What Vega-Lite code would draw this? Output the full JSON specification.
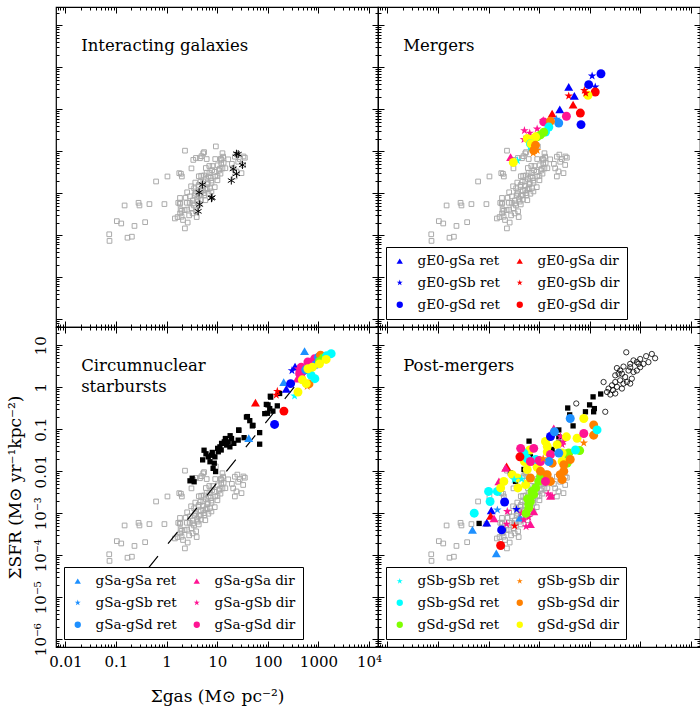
{
"$schema":"https://vega.github.io/schema/vega-lite/v6.json",
"background":"white",
"config":{
 "font":"DejaVu Serif",
 "view":{"stroke":"black","strokeWidth":1.2},
 "axis":{"domain":false,"grid":false,"tickColor":"black","tickWidth":1,"labelFont":"DejaVu Serif","labelFontSize":15,"labelColor":"black","titleFont":"DejaVu Serif","titleFontSize":17,"titleFontWeight":"normal","titleColor":"black","labelOverlap":false,"labelFlush":false,"labelBound":false,"tickCount":20},
 "legend":{"orient":"bottom-left","offset":8,"padding":7,"rowPadding":7,"columnPadding":13,"labelOffset":11,"symbolSize":40,"labelFont":"DejaVu Serif","labelFontSize":13.5,"labelColor":"black","strokeColor":"black","fillColor":"white","columns":2,"symbolStrokeWidth":0},
 "range":{
  "category":["#0000ff","#0000ff","#0000ff","#ff0000","#ff0000","#ff0000","#1e90ff","#1e90ff","#1e90ff","#ff1493","#ff1493","#ff1493","#00ffff","#00ffff","#7fff00","#ff8000","#ff8000","#ffff00"],
  "symbol":["triangle-up","M0,-1L0.225,-0.309L0.951,-0.309L0.363,0.118L0.588,0.809L0,0.382L-0.588,0.809L-0.363,0.118L-0.951,-0.309L-0.225,-0.309Z","circle","triangle-up","M0,-1L0.225,-0.309L0.951,-0.309L0.363,0.118L0.588,0.809L0,0.382L-0.588,0.809L-0.363,0.118L-0.951,-0.309L-0.225,-0.309Z","circle","triangle-up","M0,-1L0.225,-0.309L0.951,-0.309L0.363,0.118L0.588,0.809L0,0.382L-0.588,0.809L-0.363,0.118L-0.951,-0.309L-0.225,-0.309Z","circle","triangle-up","M0,-1L0.225,-0.309L0.951,-0.309L0.363,0.118L0.588,0.809L0,0.382L-0.588,0.809L-0.363,0.118L-0.951,-0.309L-0.225,-0.309Z","circle","M0,-1L0.225,-0.309L0.951,-0.309L0.363,0.118L0.588,0.809L0,0.382L-0.588,0.809L-0.363,0.118L-0.951,-0.309L-0.225,-0.309Z","circle","circle","M0,-1L0.225,-0.309L0.951,-0.309L0.363,0.118L0.588,0.809L0,0.382L-0.588,0.809L-0.363,0.118L-0.951,-0.309L-0.225,-0.309Z","circle","circle"]
 }
},
"datasets":{
 "bg":[
  {"x":0.0736,"y":1.05e-4},{"x":0.0745,"y":7.3e-5},{"x":0.104,"y":2.16e-4},{"x":0.127,"y":1.9e-4},{"x":0.169,"y":8.7e-5},{"x":0.206,"y":9.2e-5},{"x":0.232,"y":1.66e-4},{"x":0.377,"y":2.04e-4},{"x":0.148,"y":5.1e-4},{"x":0.279,"y":5.9e-4},{"x":0.291,"y":5.1e-4},{"x":0.458,"y":5.5e-4},{"x":0.906,"y":5.5e-4},{"x":0.62,"y":1.9e-3},{"x":1.04,"y":2.5e-3},{"x":2.31,"y":0.0103},{"x":2.3,"y":1.45e-4},{"x":2.61,"y":2.0e-4},{"x":3.93,"y":2.7e-4},{"x":1.65,"y":2.7e-4},{"x":1.98,"y":3.8e-4},{"x":1.83,"y":5.6e-4},
  {"x":5.3,"y":8.9e-3},{"x":3.8,"y":6.9e-3},{"x":4.9,"y":7.6e-3},{"x":5.5,"y":9.5e-3},{"x":9.4,"y":0.013},{"x":13.1,"y":7.4e-3},{"x":12.2,"y":6.2e-3},{"x":4.56,"y":6.8e-3},{"x":3.37,"y":6.2e-3},{"x":3.1,"y":3.9e-3},{"x":1.78,"y":3.0e-3},{"x":1.92,"y":2.9e-3},{"x":2.0,"y":2.5e-3},{"x":1.7,"y":5.9e-4},{"x":1.84,"y":7.7e-4},{"x":6.2,"y":6.5e-3},
  {"x":22.3,"y":7.4e-3},{"x":26,"y":5.6e-3},{"x":32.6,"y":4.7e-3},{"x":35.2,"y":7.0e-3},{"x":30.2,"y":3.0e-3},{"x":20.7,"y":3.9e-3},{"x":22.3,"y":2.5e-3},{"x":24,"y":3.3e-3},{"x":28,"y":6.5e-3},{"x":19.5,"y":5.0e-3},{"x":25,"y":8.3e-3},{"x":33,"y":7.5e-3},
  {"x":1.98,"y":2.75e-4},{"x":1.89,"y":4.1e-4},{"x":2.79,"y":2.96e-4},{"x":2.54,"y":4.07e-4},{"x":1.87,"y":5.9e-4},{"x":3.83,"y":3.7e-4},{"x":2.52,"y":5.9e-4},{"x":3.48,"y":5.1e-4},{"x":2.38,"y":7.8e-4},{"x":3.29,"y":6.7e-4},{"x":4.32,"y":5.4e-4},{"x":2.89,"y":8.4e-4},{"x":4.01,"y":7.3e-4},{"x":2.55,"y":1.05e-3},{"x":4.74,"y":7.1e-4},{"x":3.71,"y":9.8e-4},{"x":5.82,"y":6.8e-4},{"x":4.74,"y":9.0e-4},{"x":3.51,"y":1.31e-3},{"x":5.61,"y":8.9e-4},
  {"x":4.75,"y":1.15e-3},{"x":4.27,"y":1.41e-3},{"x":6.7,"y":9.7e-4},{"x":3.69,"y":1.79e-3},{"x":5.91,"y":1.22e-3},{"x":5.2,"y":1.52e-3},{"x":7.2,"y":1.31e-3},{"x":4.68,"y":1.87e-3},{"x":6.35,"y":1.64e-3},{"x":4.33,"y":2.53e-3},{"x":8.93,"y":1.39e-3},{"x":5.98,"y":2.18e-3},{"x":7.73,"y":1.77e-3},{"x":5.5,"y":2.64e-3},{"x":7.45,"y":2.32e-3},{"x":10.1,"y":2.03e-3},{"x":7.03,"y":3.08e-3},{"x":9.08,"y":2.5e-3},{"x":5.96,"y":3.98e-3},{"x":8.91,"y":3.22e-3},
  {"x":11.6,"y":2.92e-3},{"x":8.09,"y":4.43e-3},{"x":11.2,"y":3.82e-3},{"x":10.2,"y":4.62e-3},{"x":14.5,"y":3.93e-3},{"x":9.14,"y":6.5e-3},{"x":13.4,"y":5.3e-3},{"x":11.8,"y":6.6e-3},{"x":1.85,"y":3.3e-4},{"x":2.11,"y":2.3e-4},{"x":2.27,"y":3.95e-4},{"x":3.09,"y":4.4e-4},{"x":2.86,"y":5.9e-4},{"x":3.32,"y":5.7e-4},{"x":4.12,"y":6.3e-4},{"x":3.6,"y":8.9e-4},{"x":3.75,"y":1.1e-3},{"x":5.56,"y":1.0e-3},{"x":5.3,"y":1.18e-3},{"x":4.32,"y":1.57e-3},
  {"x":6.2,"y":1.32e-3},{"x":5.32,"y":1.9e-3},{"x":6.53,"y":1.8e-3},{"x":7.67,"y":2.0e-3},{"x":6.75,"y":2.51e-3},{"x":6.18,"y":3.04e-3},{"x":10.1,"y":2.58e-3},{"x":7.93,"y":3.55e-3},{"x":10.9,"y":3.48e-3},{"x":12.7,"y":3.87e-3},{"x":12.0,"y":5.15e-3},{"x":4.34,"y":8.6e-4},{"x":7.69,"y":1.1e-3},{"x":3.05,"y":1.46e-3},{"x":4.83,"y":2.6e-3},{"x":6.97,"y":4.44e-3},{"x":3.27,"y":3.3e-4},{"x":16.5,"y":6.4e-3},{"x":12.7,"y":8.95e-3},{"x":1.46,"y":2.5e-4}
 ],
 "ast":[
  {"x":24,"y":8.7e-3},{"x":26,"y":8.5e-3},{"x":31.5,"y":4.7e-3},{"x":20.7,"y":3.8e-3},{"x":24,"y":2.9e-3},{"x":19,"y":2.0e-3},{"x":5.1,"y":1.6e-3},{"x":4.4,"y":1.05e-3},{"x":7.7,"y":7.6e-4},{"x":7.9,"y":7.9e-4},{"x":4.5,"y":5.4e-4},{"x":4.2,"y":3.7e-4}
 ],
 "sq":[
  {"p":"BL","x":2.9,"y":5.9e-3},{"p":"BL","x":3.5,"y":5.6e-3},{"p":"BL","x":3.2,"y":6.8e-3},{"p":"BL","x":5.15,"y":0.0186},{"p":"BL","x":5.5,"y":0.0316},{"p":"BL","x":6.65,"y":0.022},{"p":"BL","x":7.7,"y":0.024},{"p":"BL","x":7.2,"y":0.0168},{"p":"BL","x":8.75,"y":0.0155},{"p":"BL","x":8.3,"y":0.0117},{"p":"BL","x":9.3,"y":0.0098},{"p":"BL","x":9,"y":0.022},{"p":"BL","x":10.2,"y":0.035},{"p":"BL","x":10.5,"y":0.029},{"p":"BL","x":11.3,"y":0.038},{"p":"BL","x":12.2,"y":0.046},{"p":"BL","x":13.8,"y":0.05},{"p":"BL","x":15.3,"y":0.042},{"p":"BL","x":16.5,"y":0.05},{"p":"BL","x":17.8,"y":0.038},{"p":"BL","x":19.2,"y":0.06},{"p":"BL","x":21.3,"y":0.046},{"p":"BL","x":26,"y":0.055},{"p":"BL","x":26.7,"y":0.094},{"p":"BL","x":6.0,"y":0.026},{"p":"BL","x":8.0,"y":0.028},{"p":"BL","x":12,"y":0.032},{"p":"BL","x":14.5,"y":0.06},{"p":"BL","x":37.8,"y":0.195},{"p":"BL","x":39.5,"y":0.2},{"p":"BL","x":51,"y":0.124},{"p":"BL","x":49.5,"y":0.12},{"p":"BL","x":26.6,"y":0.096},{"p":"BL","x":34,"y":0.063},{"p":"BL","x":69,"y":0.083},{"p":"BL","x":69,"y":0.044},{"p":"BL","x":87,"y":0.235},{"p":"BL","x":93.5,"y":0.39},{"p":"BL","x":101,"y":0.38},{"p":"BL","x":109,"y":0.31},{"p":"BL","x":98,"y":0.24},{"p":"BL","x":126,"y":0.27},{"p":"BL","x":154,"y":0.36},{"p":"BL","x":114,"y":0.58},{"p":"BL","x":112,"y":0.61},{"p":"BL","x":171,"y":0.71},{"p":"BL","x":44,"y":0.16},{"p":"BL","x":18,"y":0.07},
  {"p":"BR","x":0.65,"y":5.7e-4},{"p":"BR","x":2.7,"y":9.1e-3},{"p":"BR","x":3.4,"y":5.7e-3},{"p":"BR","x":6.3,"y":0.052},{"p":"BR","x":6.7,"y":0.022},{"p":"BR","x":6.9,"y":0.016},{"p":"BR","x":24.4,"y":0.096},{"p":"BR","x":24.4,"y":0.047},{"p":"BR","x":24.4,"y":0.066},{"p":"BR","x":36.6,"y":0.32},{"p":"BR","x":40,"y":0.22},{"p":"BR","x":46.7,"y":0.12},{"p":"BR","x":82,"y":0.26},{"p":"BR","x":99,"y":0.38},{"p":"BR","x":116,"y":0.59},{"p":"BR","x":119,"y":0.26},{"p":"BR","x":123,"y":0.31},{"p":"BR","x":164,"y":0.69},{"p":"BR","x":18,"y":0.033},{"p":"BR","x":5,"y":0.011}
 ],
 "oc":[
  {"x":525,"y":6.8},{"x":1297,"y":5.5},{"x":1680,"y":6.2},{"x":989,"y":4.7},{"x":730,"y":4.35},{"x":916,"y":3.6},{"x":628,"y":3.0},{"x":463,"y":3.1},{"x":343,"y":2.86},{"x":398,"y":2.5},{"x":431,"y":2.1},{"x":500,"y":1.75},{"x":730,"y":2.3},{"x":850,"y":2.5},{"x":676,"y":1.6},{"x":541,"y":1.33},{"x":398,"y":1.46},{"x":318,"y":1.33},{"x":274,"y":1.11},{"x":343,"y":1.02},{"x":431,"y":0.93},{"x":286,"y":0.85},{"x":235,"y":0.93},{"x":187,"y":1.33},{"x":219,"y":0.77},{"x":254,"y":0.67},{"x":318,"y":0.71},{"x":628,"y":1.22},{"x":463,"y":1.22},{"x":54,"y":0.41},{"x":202,"y":0.26},{"x":1150,"y":3.6},{"x":1440,"y":3.96},{"x":628,"y":3.6},{"x":582,"y":2.5},{"x":370,"y":2.1},{"x":318,"y":1.92},{"x":989,"y":3.0},{"x":850,"y":3.96},{"x":1950,"y":4.9}
 ],
 "sim":[
  {"p":"TR","cat":"gE0-gSd ret","x":166,"y":0.70},{"p":"TR","cat":"gE0-gSb ret","x":111,"y":0.62},{"p":"TR","cat":"gE0-gSd ret","x":95,"y":0.385},{"p":"TR","cat":"gE0-gSb ret","x":128,"y":0.34},{"p":"TR","cat":"gE0-gSd dir","x":128,"y":0.257},{"p":"TR","cat":"gSd-gSd dir","x":92,"y":0.214},{"p":"TR","cat":"gE0-gSb dir","x":78,"y":0.28},{"p":"TR","cat":"gE0-gSb dir","x":83,"y":0.24},{"p":"TR","cat":"gE0-gSa ret","x":38.3,"y":0.34},{"p":"TR","cat":"gE0-gSb dir","x":38.3,"y":0.207},{"p":"TR","cat":"gE0-gSa ret","x":49.5,"y":0.207},{"p":"TR","cat":"gE0-gSa dir","x":46.7,"y":0.128},{"p":"TR","cat":"gE0-gSd dir","x":65,"y":0.081},{"p":"TR","cat":"gE0-gSd ret","x":67,"y":0.043},{"p":"TR","cat":"gE0-gSa ret","x":25.5,"y":0.099},{"p":"TR","cat":"gE0-gSa dir","x":18,"y":0.078},
  {"p":"TR","cat":"gSa-gSd dir","x":34.5,"y":0.068},{"p":"TR","cat":"gSa-gSb dir","x":12,"y":0.054},{"p":"TR","cat":"gSa-gSd dir","x":12.3,"y":0.05},{"p":"TR","cat":"gSa-gSb ret","x":22,"y":0.058},{"p":"TR","cat":"gSa-gSd ret","x":24.3,"y":0.047},{"p":"TR","cat":"gSb-gSd dir","x":16.7,"y":0.052},{"p":"TR","cat":"gSb-gSd ret","x":15.5,"y":0.0376},{"p":"TR","cat":"gSb-gSd ret","x":13.3,"y":0.0285},{"p":"TR","cat":"gSa-gSb dir","x":9.1,"y":0.034},{"p":"TR","cat":"gSa-gSb dir","x":5.1,"y":0.031},{"p":"TR","cat":"gSa-gSb dir","x":6.5,"y":0.027},{"p":"TR","cat":"gSa-gSb dir","x":5.0,"y":0.019},
  {"p":"TR","cat":"gSd-gSd ret","x":12.3,"y":0.0285},{"p":"TR","cat":"gSd-gSd ret","x":10.6,"y":0.0245},{"p":"TR","cat":"gSd-gSd ret","x":9.1,"y":0.022},{"p":"TR","cat":"gSd-gSd dir","x":7.8,"y":0.02},{"p":"TR","cat":"gSd-gSd dir","x":5.8,"y":0.02},{"p":"TR","cat":"gSd-gSd dir","x":8.5,"y":0.022},{"p":"TR","cat":"gSb-gSd ret","x":6.7,"y":0.015},{"p":"TR","cat":"gSb-gSd ret","x":7.3,"y":0.012},{"p":"TR","cat":"gSd-gSd dir","x":6.9,"y":0.015},{"p":"TR","cat":"gSb-gSd dir","x":8.45,"y":0.0138},{"p":"TR","cat":"gSb-gSd dir","x":7.8,"y":0.0105},{"p":"TR","cat":"gSb-gSb dir","x":7.6,"y":0.009},{"p":"TR","cat":"gSb-gSb dir","x":9.1,"y":0.0105},{"p":"TR","cat":"gSa-gSa dir","x":2.72,"y":0.0072},{"p":"TR","cat":"gSb-gSb ret","x":3.7,"y":0.006},{"p":"TR","cat":"gSd-gSd dir","x":3.08,"y":0.0054},
  {"p":"BL","cat":"gSa-gSa ret","x":532,"y":7.2},{"p":"BL","cat":"gSa-gSa ret","x":206,"y":1.33},{"p":"BL","cat":"gSa-gSa ret","x":42,"y":0.061},{"p":"BL","cat":"gE0-gSa ret","x":345,"y":3.1},{"p":"BL","cat":"gE0-gSa ret","x":232,"y":0.91},{"p":"BL","cat":"gE0-gSb ret","x":300,"y":2.5},{"p":"BL","cat":"gSa-gSd dir","x":458,"y":3.0},{"p":"BL","cat":"gSa-gSd dir","x":620,"y":4.0},{"p":"BL","cat":"gSa-gSd dir","x":838,"y":4.75},{"p":"BL","cat":"gSa-gSd dir","x":425,"y":2.1},{"p":"BL","cat":"gSa-gSb dir","x":394,"y":2.75},{"p":"BL","cat":"gSa-gSb dir","x":500,"y":2.0},{"p":"BL","cat":"gSa-gSb dir","x":700,"y":3.8},{"p":"BL","cat":"gSa-gSa dir","x":380,"y":1.6},{"p":"BL","cat":"gSa-gSd ret","x":900,"y":3.5},{"p":"BL","cat":"gSa-gSd ret","x":1000,"y":5.2},{"p":"BL","cat":"gSa-gSd ret","x":560,"y":2.6},{"p":"BL","cat":"gSb-gSd dir","x":1100,"y":5.8},{"p":"BL","cat":"gSb-gSd dir","x":650,"y":1.2},{"p":"BL","cat":"gSb-gSb dir","x":600,"y":1.05},{"p":"BL","cat":"gSd-gSd ret","x":1050,"y":4.1},{"p":"BL","cat":"gSd-gSd ret","x":1250,"y":5.0},{"p":"BL","cat":"gSb-gSd ret","x":1785,"y":6.3},{"p":"BL","cat":"gSb-gSd ret","x":1450,"y":5.6},{"p":"BL","cat":"gSb-gSd ret","x":720,"y":1.92},{"p":"BL","cat":"gSb-gSd ret","x":850,"y":1.6},{"p":"BL","cat":"gSb-gSb ret","x":338,"y":0.62},{"p":"BL","cat":"gSd-gSd dir","x":620,"y":2.75},{"p":"BL","cat":"gSd-gSd dir","x":394,"y":0.77},{"p":"BL","cat":"gSd-gSd dir","x":574,"y":1.22},{"p":"BL","cat":"gSd-gSd dir","x":1050,"y":3.6},{"p":"BL","cat":"gSd-gSd dir","x":1420,"y":4.6},{"p":"BL","cat":"gSd-gSd dir","x":480,"y":1.5},{"p":"BL","cat":"gSd-gSd dir","x":760,"y":3.0},{"p":"BL","cat":"gE0-gSd ret","x":282,"y":1.22},{"p":"BL","cat":"gE0-gSd ret","x":136,"y":0.13},{"p":"BL","cat":"gE0-gSb dir","x":154,"y":0.8},{"p":"BL","cat":"gE0-gSb dir","x":147,"y":0.65},{"p":"BL","cat":"gE0-gSa dir","x":57,"y":0.43},{"p":"BL","cat":"gE0-gSd dir","x":208,"y":0.27},
  {"p":"BR","cat":"gSb-gSd ret","x":0.52,"y":1.0e-3},{"p":"BR","cat":"gSb-gSd ret","x":1.0,"y":3.3e-3},{"p":"BR","cat":"gSb-gSd ret","x":1.07,"y":1.9e-3},{"p":"BR","cat":"gSb-gSd ret","x":1.49,"y":3.3e-3},{"p":"BR","cat":"gE0-gSd ret","x":1.81,"y":4.0e-4},{"p":"BR","cat":"gE0-gSd ret","x":2.07,"y":1.85e-3},{"p":"BR","cat":"gE0-gSd dir","x":1.73,"y":1.7e-4},{"p":"BR","cat":"gSa-gSa ret","x":1.42,"y":1.1e-4},{"p":"BR","cat":"gSa-gSa ret","x":0.48,"y":4.0e-4},{"p":"BR","cat":"gSa-gSa ret","x":4.16,"y":7.8e-4},{"p":"BR","cat":"gE0-gSa ret","x":0.92,"y":6.0e-4},{"p":"BR","cat":"gE0-gSa ret","x":1.13,"y":1.17e-3},{"p":"BR","cat":"gE0-gSa dir","x":1.1,"y":8.6e-4},{"p":"BR","cat":"gE0-gSa dir","x":2.27,"y":0.013},{"p":"BR","cat":"gSa-gSa dir","x":1.28,"y":7.5e-4},{"p":"BR","cat":"gSa-gSa dir","x":6.7,"y":5.5e-4},{"p":"BR","cat":"gSa-gSa dir","x":19.4,"y":0.105},{"p":"BR","cat":"gSa-gSa dir","x":2.17,"y":0.012},{"p":"BR","cat":"gSa-gSa dir","x":1.6,"y":5.7e-3},{"p":"BR","cat":"gSa-gSa dir","x":16.7,"y":2.6e-3},{"p":"BR","cat":"gSa-gSa dir","x":7.8,"y":1.1e-3},{"p":"BR","cat":"gSa-gSb ret","x":1.49,"y":1.2e-3},{"p":"BR","cat":"gSa-gSb dir","x":2.34,"y":1.1e-3},{"p":"BR","cat":"gSa-gSb dir","x":2.27,"y":5.5e-4},{"p":"BR","cat":"gSa-gSb dir","x":4.5,"y":1.0e-3},{"p":"BR","cat":"gSa-gSb dir","x":5,"y":7e-4},{"p":"BR","cat":"gSa-gSb dir","x":6.2,"y":8e-4},{"p":"BR","cat":"gSa-gSb dir","x":5.5,"y":4.8e-4},{"p":"BR","cat":"gSa-gSb dir","x":30,"y":0.05},{"p":"BR","cat":"gSa-gSb dir","x":28.4,"y":0.043},{"p":"BR","cat":"gSa-gSb dir","x":26.3,"y":0.067},{"p":"BR","cat":"gSa-gSb dir","x":18,"y":2.6e-3},{"p":"BR","cat":"gSa-gSb dir","x":15,"y":2.9e-3},{"p":"BR","cat":"gE0-gSb dir","x":3.27,"y":5.0e-4},{"p":"BR","cat":"gE0-gSb ret","x":3.57,"y":1.23e-3},
  {"p":"BR","cat":"gSd-gSd ret","x":5.5,"y":1.0e-3},{"p":"BR","cat":"gSd-gSd ret","x":6.25,"y":1.35e-3},{"p":"BR","cat":"gSd-gSd ret","x":6.2,"y":1.6e-3},{"p":"BR","cat":"gSd-gSd ret","x":6.7,"y":1.9e-3},{"p":"BR","cat":"gSd-gSd ret","x":5.9,"y":2.2e-3},{"p":"BR","cat":"gSd-gSd ret","x":7.8,"y":2.8e-3},{"p":"BR","cat":"gSd-gSd ret","x":7.2,"y":3.3e-3},{"p":"BR","cat":"gSd-gSd ret","x":8.5,"y":4.0e-3},{"p":"BR","cat":"gSd-gSd ret","x":9.8,"y":5.7e-3},{"p":"BR","cat":"gSd-gSd ret","x":10.6,"y":7.5e-3},{"p":"BR","cat":"gSd-gSd ret","x":63,"y":0.031},{"p":"BR","cat":"gSd-gSd ret","x":35,"y":0.026},{"p":"BR","cat":"gSd-gSd ret","x":32,"y":0.016},{"p":"BR","cat":"gSd-gSd ret","x":38.4,"y":0.027},{"p":"BR","cat":"gSd-gSd ret","x":35.6,"y":0.0155},
  {"p":"BR","cat":"gSd-gSd dir","x":1.73,"y":4.0e-3},{"p":"BR","cat":"gSd-gSd dir","x":2.0,"y":5.7e-3},{"p":"BR","cat":"gSd-gSd dir","x":2.93,"y":8.3e-3},{"p":"BR","cat":"gSd-gSd dir","x":3.8,"y":4.0e-3},{"p":"BR","cat":"gSd-gSd dir","x":3.68,"y":6.9e-3},{"p":"BR","cat":"gSd-gSd dir","x":5.4,"y":4.8e-3},{"p":"BR","cat":"gSd-gSd dir","x":5.8,"y":0.011},{"p":"BR","cat":"gSd-gSd dir","x":9.1,"y":0.0124},{"p":"BR","cat":"gSd-gSd dir","x":5.1,"y":0.017},{"p":"BR","cat":"gSd-gSd dir","x":6.5,"y":0.032},{"p":"BR","cat":"gSd-gSd dir","x":14.4,"y":0.039},{"p":"BR","cat":"gSd-gSd dir","x":22.6,"y":0.043},{"p":"BR","cat":"gSd-gSd dir","x":28.4,"y":0.027},{"p":"BR","cat":"gSd-gSd dir","x":28.4,"y":0.017},{"p":"BR","cat":"gSd-gSd dir","x":34.5,"y":0.066},{"p":"BR","cat":"gSd-gSd dir","x":56,"y":0.061},{"p":"BR","cat":"gSd-gSd dir","x":76,"y":0.18},{"p":"BR","cat":"gSd-gSd dir","x":13.3,"y":0.051},{"p":"BR","cat":"gSd-gSd dir","x":14.4,"y":0.029},
  {"p":"BR","cat":"gSb-gSd dir","x":6.7,"y":6.9e-3},{"p":"BR","cat":"gSb-gSd dir","x":10.6,"y":0.01},{"p":"BR","cat":"gSb-gSd dir","x":14.4,"y":8.3e-3},{"p":"BR","cat":"gSb-gSd dir","x":16.7,"y":5.7e-3},{"p":"BR","cat":"gSb-gSd dir","x":26,"y":8.3e-3},{"p":"BR","cat":"gSb-gSd dir","x":30.6,"y":0.01},{"p":"BR","cat":"gSb-gSd dir","x":28.4,"y":6.3e-3},{"p":"BR","cat":"gSb-gSd dir","x":30.6,"y":0.0143},{"p":"BR","cat":"gSb-gSd dir","x":41,"y":0.019},{"p":"BR","cat":"gSb-gSd dir","x":119,"y":0.126},{"p":"BR","cat":"gSb-gSd dir","x":119,"y":0.072},{"p":"BR","cat":"gSb-gSd dir","x":18,"y":0.0155},
  {"p":"BR","cat":"gSb-gSd ret","x":5.0,"y":0.027},{"p":"BR","cat":"gSb-gSd ret","x":5.8,"y":0.02},{"p":"BR","cat":"gSb-gSd ret","x":8.5,"y":0.019},{"p":"BR","cat":"gSb-gSd ret","x":139,"y":0.096},{"p":"BR","cat":"gSb-gSd ret","x":52,"y":0.032},
  {"p":"BR","cat":"gSa-gSd dir","x":4.3,"y":0.035},{"p":"BR","cat":"gSa-gSd dir","x":6.7,"y":0.017},{"p":"BR","cat":"gSa-gSd dir","x":7.8,"y":0.035},{"p":"BR","cat":"gSa-gSd dir","x":10.6,"y":0.017},{"p":"BR","cat":"gSa-gSd dir","x":16.7,"y":0.025},{"p":"BR","cat":"gSa-gSd dir","x":13.3,"y":5.7e-3},{"p":"BR","cat":"gSa-gSd dir","x":76,"y":0.079},{"p":"BR","cat":"gSa-gSd dir","x":10,"y":0.018},
  {"p":"BR","cat":"gE0-gSd dir","x":4.16,"y":0.022},{"p":"BR","cat":"gE0-gSd ret","x":16.7,"y":0.067},
  {"p":"BR","cat":"gSa-gSd ret","x":20,"y":0.087},{"p":"BR","cat":"gSa-gSd ret","x":41,"y":0.18},{"p":"BR","cat":"gSa-gSd ret","x":15.5,"y":0.017},{"p":"BR","cat":"gSa-gSd ret","x":24.4,"y":0.027},{"p":"BR","cat":"gSb-gSb ret","x":3.2,"y":6.3e-3},{"p":"BR","cat":"gSb-gSb ret","x":4.5,"y":6.5e-3},{"p":"BR","cat":"gSb-gSb dir","x":76,"y":0.047},{"p":"BR","cat":"gSb-gSb dir","x":12,"y":0.02}
 ]
},
"columns":2,
"spacing":0,
"bounds":"flush",
"resolve":{"scale":{"color":"independent","shape":"independent"},"legend":{"color":"independent","shape":"independent"}},
"concat":[
 {"width":322,"height":320,
  "resolve":{"axis":{"x":"independent","y":"independent"}},
  "layer":[
   {"data":{"name":"bg"},"mark":{"type":"point","shape":"square","filled":false,"color":"#aaaaaa","size":22,"strokeWidth":1,"opacity":1},
    "encoding":{"x":{"field":"x","type":"quantitative","scale":{"type":"log","domain":[0.00653,15030],"nice":false},"axis":{"orient":"bottom","labels":false,"title":null,"tickSize":{"condition":{"test":"abs(log(datum.value)/LN10-round(log(datum.value)/LN10))<0.01","value":-6},"value":-3}}},
                "y":{"field":"y","type":"quantitative","scale":{"type":"log","domain":[6.5e-7,27.2],"nice":false},"axis":{"orient":"left","labels":false,"title":null,"tickSize":{"condition":{"test":"abs(log(datum.value)/LN10-round(log(datum.value)/LN10))<0.01","value":-6},"value":-3}}}}},
   {"data":{"name":"ast"},"mark":{"type":"point","shape":"M0,-1L0,1M-0.866,-0.5L0.866,0.5M-0.866,0.5L0.866,-0.5","filled":false,"color":"black","size":64,"strokeWidth":1,"opacity":1},
    "encoding":{"x":{"field":"x","type":"quantitative","scale":{"type":"log","domain":[0.00653,15030],"nice":false},"axis":{"orient":"top","labels":false,"title":null,"tickSize":{"condition":{"test":"abs(log(datum.value)/LN10-round(log(datum.value)/LN10))<0.01","value":-6},"value":-3}}},
                "y":{"field":"y","type":"quantitative","scale":{"type":"log","domain":[6.5e-7,27.2],"nice":false},"axis":{"orient":"right","labels":false,"title":null,"tickSize":{"condition":{"test":"abs(log(datum.value)/LN10-round(log(datum.value)/LN10))<0.01","value":-6},"value":-3}}}}},
   {"data":{"values":[{}]},"mark":{"type":"text","text":"Interacting galaxies","align":"left","baseline":"top","font":"DejaVu Serif","fontSize":16.5,"color":"black"},
    "encoding":{"x":{"datum":0.0205,"type":"quantitative","scale":{"type":"log","domain":[0.00653,15030],"nice":false},"axis":null},"y":{"datum":5.0,"type":"quantitative","scale":{"type":"log","domain":[6.5e-7,27.2],"nice":false},"axis":null}}}
  ]},
 {"width":322,"height":320,
  "resolve":{"axis":{"x":"independent","y":"independent"}},
  "layer":[
   {"data":{"name":"bg"},"mark":{"type":"point","shape":"square","filled":false,"color":"#aaaaaa","size":22,"strokeWidth":1,"opacity":1},
    "encoding":{"x":{"field":"x","type":"quantitative","scale":{"type":"log","domain":[0.00653,15030],"nice":false},"axis":{"orient":"bottom","labels":false,"title":null,"tickSize":{"condition":{"test":"abs(log(datum.value)/LN10-round(log(datum.value)/LN10))<0.01","value":-6},"value":-3}}},
                "y":{"field":"y","type":"quantitative","scale":{"type":"log","domain":[6.5e-7,27.2],"nice":false},"axis":{"orient":"left","labels":false,"title":null,"tickSize":{"condition":{"test":"abs(log(datum.value)/LN10-round(log(datum.value)/LN10))<0.01","value":-6},"value":-3}}}}},
   {"data":{"name":"sim"},"transform":[{"filter":"datum.p == 'TR'"}],"mark":{"type":"point","filled":true,"size":80,"opacity":1,"strokeWidth":0},
    "encoding":{"x":{"field":"x","type":"quantitative","scale":{"type":"log","domain":[0.00653,15030],"nice":false},"axis":{"orient":"top","labels":false,"title":null,"tickSize":{"condition":{"test":"abs(log(datum.value)/LN10-round(log(datum.value)/LN10))<0.01","value":-6},"value":-3}}},
                "y":{"field":"y","type":"quantitative","scale":{"type":"log","domain":[6.5e-7,27.2],"nice":false},"axis":{"orient":"right","labels":false,"title":null,"tickSize":{"condition":{"test":"abs(log(datum.value)/LN10-round(log(datum.value)/LN10))<0.01","value":-6},"value":-3}}},
                "color":{"field":"cat","type":"nominal","scale":{"domain":["gE0-gSa ret","gE0-gSb ret","gE0-gSd ret","gE0-gSa dir","gE0-gSb dir","gE0-gSd dir","gSa-gSa ret","gSa-gSb ret","gSa-gSd ret","gSa-gSa dir","gSa-gSb dir","gSa-gSd dir","gSb-gSb ret","gSb-gSd ret","gSd-gSd ret","gSb-gSb dir","gSb-gSd dir","gSd-gSd dir"]},"legend":{"title":null,"values":["gE0-gSa ret","gE0-gSb ret","gE0-gSd ret","gE0-gSa dir","gE0-gSb dir","gE0-gSd dir"]}},
                "shape":{"field":"cat","type":"nominal","scale":{"domain":["gE0-gSa ret","gE0-gSb ret","gE0-gSd ret","gE0-gSa dir","gE0-gSb dir","gE0-gSd dir","gSa-gSa ret","gSa-gSb ret","gSa-gSd ret","gSa-gSa dir","gSa-gSb dir","gSa-gSd dir","gSb-gSb ret","gSb-gSd ret","gSd-gSd ret","gSb-gSb dir","gSb-gSd dir","gSd-gSd dir"]},"legend":{"title":null,"values":["gE0-gSa ret","gE0-gSb ret","gE0-gSd ret","gE0-gSa dir","gE0-gSb dir","gE0-gSd dir"]}}}},
   {"data":{"values":[{}]},"mark":{"type":"text","text":"Mergers","align":"left","baseline":"top","font":"DejaVu Serif","fontSize":16.5,"color":"black"},
    "encoding":{"x":{"datum":0.0205,"type":"quantitative","scale":{"type":"log","domain":[0.00653,15030],"nice":false},"axis":null},"y":{"datum":5.0,"type":"quantitative","scale":{"type":"log","domain":[6.5e-7,27.2],"nice":false},"axis":null}}}
  ]},
 {"width":322,"height":320,
  "resolve":{"axis":{"x":"independent","y":"independent"}},
  "layer":[
   {"data":{"name":"bg"},"mark":{"type":"point","shape":"square","filled":false,"color":"#aaaaaa","size":22,"strokeWidth":1,"opacity":1},
    "encoding":{"x":{"field":"x","type":"quantitative","scale":{"type":"log","domain":[0.00653,15030],"nice":false},"axis":{"orient":"bottom","title":"Σgas (M⊙ pc⁻²)","titlePadding":16,"labelPadding":13.3,"labelExpr":"abs(log(datum.value)/LN10-round(log(datum.value)/LN10))>0.01 ? '' : (datum.value > 5000 ? '10⁴' : format(datum.value, '~g'))","tickSize":{"condition":{"test":"abs(log(datum.value)/LN10-round(log(datum.value)/LN10))<0.01","value":-6},"value":-3}}},
                "y":{"field":"y","type":"quantitative","scale":{"type":"log","domain":[6.5e-7,27.2],"nice":false},"axis":{"orient":"left","title":"ΣSFR (M⊙ yr⁻¹kpc⁻²)","titlePadding":6,"labelPadding":16.5,"labelAngle":270,"labelAlign":"center","labelBaseline":"alphabetic","labelExpr":"abs(log(datum.value)/LN10-round(log(datum.value)/LN10))>0.01 ? '' : (datum.value > 0.005 ? format(datum.value, '~g') : datum.value > 0.0005 ? '10⁻³' : datum.value > 0.00005 ? '10⁻⁴' : datum.value > 0.000005 ? '10⁻⁵' : '10⁻⁶')","tickSize":{"condition":{"test":"abs(log(datum.value)/LN10-round(log(datum.value)/LN10))<0.01","value":-6},"value":-3}}}}},
   {"data":{"values":[{"x":0.44,"y":5e-5},{"x":1050,"y":5.6}]},"mark":{"type":"line","color":"black","strokeWidth":1.2,"strokeDash":[15,16]},
    "encoding":{"x":{"field":"x","type":"quantitative","scale":{"type":"log","domain":[0.00653,15030],"nice":false},"axis":null},"y":{"field":"y","type":"quantitative","scale":{"type":"log","domain":[6.5e-7,27.2],"nice":false},"axis":null}}},
   {"data":{"name":"sq"},"transform":[{"filter":"datum.p == 'BL'"}],"mark":{"type":"point","shape":"square","filled":true,"color":"black","size":28,"opacity":1},
    "encoding":{"x":{"field":"x","type":"quantitative","scale":{"type":"log","domain":[0.00653,15030],"nice":false},"axis":{"orient":"top","labels":false,"title":null,"tickSize":{"condition":{"test":"abs(log(datum.value)/LN10-round(log(datum.value)/LN10))<0.01","value":-6},"value":-3}}},
                "y":{"field":"y","type":"quantitative","scale":{"type":"log","domain":[6.5e-7,27.2],"nice":false},"axis":{"orient":"right","labels":false,"title":null,"tickSize":{"condition":{"test":"abs(log(datum.value)/LN10-round(log(datum.value)/LN10))<0.01","value":-6},"value":-3}}}}},
   {"data":{"name":"sim"},"transform":[{"filter":"datum.p == 'BL'"}],"mark":{"type":"point","filled":true,"size":80,"opacity":1,"strokeWidth":0},
    "encoding":{"x":{"field":"x","type":"quantitative","scale":{"type":"log","domain":[0.00653,15030],"nice":false},"axis":null},
                "y":{"field":"y","type":"quantitative","scale":{"type":"log","domain":[6.5e-7,27.2],"nice":false},"axis":null},
                "color":{"field":"cat","type":"nominal","scale":{"domain":["gE0-gSa ret","gE0-gSb ret","gE0-gSd ret","gE0-gSa dir","gE0-gSb dir","gE0-gSd dir","gSa-gSa ret","gSa-gSb ret","gSa-gSd ret","gSa-gSa dir","gSa-gSb dir","gSa-gSd dir","gSb-gSb ret","gSb-gSd ret","gSd-gSd ret","gSb-gSb dir","gSb-gSd dir","gSd-gSd dir"]},"legend":{"title":null,"values":["gSa-gSa ret","gSa-gSb ret","gSa-gSd ret","gSa-gSa dir","gSa-gSb dir","gSa-gSd dir"]}},
                "shape":{"field":"cat","type":"nominal","scale":{"domain":["gE0-gSa ret","gE0-gSb ret","gE0-gSd ret","gE0-gSa dir","gE0-gSb dir","gE0-gSd dir","gSa-gSa ret","gSa-gSb ret","gSa-gSd ret","gSa-gSa dir","gSa-gSb dir","gSa-gSd dir","gSb-gSb ret","gSb-gSd ret","gSd-gSd ret","gSb-gSb dir","gSb-gSd dir","gSd-gSd dir"]},"legend":{"title":null,"values":["gSa-gSa ret","gSa-gSb ret","gSa-gSd ret","gSa-gSa dir","gSa-gSb dir","gSa-gSd dir"]}}}},
   {"data":{"values":[{}]},"mark":{"type":"text","text":["Circumnuclear","starbursts"],"lineHeight":21.6,"align":"left","baseline":"top","font":"DejaVu Serif","fontSize":16.5,"color":"black"},
    "encoding":{"x":{"datum":0.0205,"type":"quantitative","scale":{"type":"log","domain":[0.00653,15030],"nice":false},"axis":null},"y":{"datum":5.0,"type":"quantitative","scale":{"type":"log","domain":[6.5e-7,27.2],"nice":false},"axis":null}}}
  ]},
 {"width":322,"height":320,
  "resolve":{"axis":{"x":"independent","y":"independent"}},
  "layer":[
   {"data":{"name":"oc"},"mark":{"type":"point","shape":"circle","filled":false,"color":"black","size":28,"strokeWidth":0.8,"opacity":1},
    "encoding":{"x":{"field":"x","type":"quantitative","scale":{"type":"log","domain":[0.00653,15030],"nice":false},"axis":null},"y":{"field":"y","type":"quantitative","scale":{"type":"log","domain":[6.5e-7,27.2],"nice":false},"axis":null}}},
   {"data":{"name":"bg"},"mark":{"type":"point","shape":"square","filled":false,"color":"#aaaaaa","size":22,"strokeWidth":1,"opacity":1},
    "encoding":{"x":{"field":"x","type":"quantitative","scale":{"type":"log","domain":[0.00653,15030],"nice":false},"axis":{"orient":"bottom","labels":false,"title":null,"tickSize":{"condition":{"test":"abs(log(datum.value)/LN10-round(log(datum.value)/LN10))<0.01","value":-6},"value":-3}}},
                "y":{"field":"y","type":"quantitative","scale":{"type":"log","domain":[6.5e-7,27.2],"nice":false},"axis":{"orient":"left","labels":false,"title":null,"tickSize":{"condition":{"test":"abs(log(datum.value)/LN10-round(log(datum.value)/LN10))<0.01","value":-6},"value":-3}}}}},
   {"data":{"name":"sq"},"transform":[{"filter":"datum.p == 'BR'"}],"mark":{"type":"point","shape":"square","filled":true,"color":"black","size":28,"opacity":1},
    "encoding":{"x":{"field":"x","type":"quantitative","scale":{"type":"log","domain":[0.00653,15030],"nice":false},"axis":{"orient":"top","labels":false,"title":null,"tickSize":{"condition":{"test":"abs(log(datum.value)/LN10-round(log(datum.value)/LN10))<0.01","value":-6},"value":-3}}},
                "y":{"field":"y","type":"quantitative","scale":{"type":"log","domain":[6.5e-7,27.2],"nice":false},"axis":{"orient":"right","labels":false,"title":null,"tickSize":{"condition":{"test":"abs(log(datum.value)/LN10-round(log(datum.value)/LN10))<0.01","value":-6},"value":-3}}}}},
   {"data":{"name":"sim"},"transform":[{"filter":"datum.p == 'BR'"}],"mark":{"type":"point","filled":true,"size":80,"opacity":1,"strokeWidth":0},
    "encoding":{"x":{"field":"x","type":"quantitative","scale":{"type":"log","domain":[0.00653,15030],"nice":false},"axis":null},
                "y":{"field":"y","type":"quantitative","scale":{"type":"log","domain":[6.5e-7,27.2],"nice":false},"axis":null},
                "color":{"field":"cat","type":"nominal","scale":{"domain":["gE0-gSa ret","gE0-gSb ret","gE0-gSd ret","gE0-gSa dir","gE0-gSb dir","gE0-gSd dir","gSa-gSa ret","gSa-gSb ret","gSa-gSd ret","gSa-gSa dir","gSa-gSb dir","gSa-gSd dir","gSb-gSb ret","gSb-gSd ret","gSd-gSd ret","gSb-gSb dir","gSb-gSd dir","gSd-gSd dir"]},"legend":{"title":null,"values":["gSb-gSb ret","gSb-gSd ret","gSd-gSd ret","gSb-gSb dir","gSb-gSd dir","gSd-gSd dir"]}},
                "shape":{"field":"cat","type":"nominal","scale":{"domain":["gE0-gSa ret","gE0-gSb ret","gE0-gSd ret","gE0-gSa dir","gE0-gSb dir","gE0-gSd dir","gSa-gSa ret","gSa-gSb ret","gSa-gSd ret","gSa-gSa dir","gSa-gSb dir","gSa-gSd dir","gSb-gSb ret","gSb-gSd ret","gSd-gSd ret","gSb-gSb dir","gSb-gSd dir","gSd-gSd dir"]},"legend":{"title":null,"values":["gSb-gSb ret","gSb-gSd ret","gSd-gSd ret","gSb-gSb dir","gSb-gSd dir","gSd-gSd dir"]}}}},
   {"data":{"values":[{}]},"mark":{"type":"text","text":"Post-mergers","align":"left","baseline":"top","font":"DejaVu Serif","fontSize":16.5,"color":"black"},
    "encoding":{"x":{"datum":0.0205,"type":"quantitative","scale":{"type":"log","domain":[0.00653,15030],"nice":false},"axis":null},"y":{"datum":5.0,"type":"quantitative","scale":{"type":"log","domain":[6.5e-7,27.2],"nice":false},"axis":null}}}
  ]}
]
}
